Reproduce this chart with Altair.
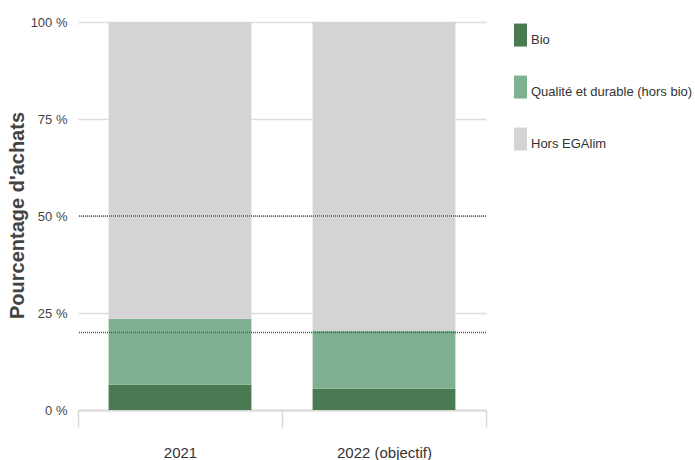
import altair as alt
import pandas as pd

years = ["2021", "2022 (objectif)"]
categories = ["Bio", "Qualité et durable (hors bio)", "Hors EGAlim"]
bio = [6.5, 5.5]
qualite = [17.0, 15.0]
hors = [76.5, 79.5]
colors = ["#4a7a52", "#80b092", "#d4d4d4"]
rule_values = [50, 20]
y_ticks = [0, 25, 50, 75, 100]

rows = []
for i, yr in enumerate(years):
    for k, (cat, vals) in enumerate(zip(categories, [bio, qualite, hors])):
        rows.append({"annee": yr, "categorie": cat, "valeur": vals[i], "ordre": k})
df = pd.DataFrame(rows)
rules = pd.DataFrame({"seuil": rule_values})

font = "Liberation Sans, Arial, sans-serif"
swatch = "M-0.13,-1.43L1,-1.43L1,0.57L-0.13,0.57Z"

bars = alt.Chart(df).mark_bar(width=alt.RelativeBandSize(0.7)).encode(
    x=alt.X(
        "annee:N", sort=years, title=None,
        scale=alt.Scale(paddingInner=0, paddingOuter=0),
        axis=alt.Axis(
            labelAngle=0, tickBand="extent", tickSize=17, tickColor="#d9d9d9",
            tickWidth=1.5, domainColor="#d9d9d9", domainWidth=2, labelPadding=18,
            labelFontSize=15, labelColor="#333333", labelFont=font, grid=False,
        ),
    ),
    y=alt.Y(
        "valeur:Q", stack="zero", scale=alt.Scale(domain=[0, 100]),
        title="Pourcentage d'achats",
        axis=alt.Axis(
            values=y_ticks, labelExpr="datum.value + ' %'", ticks=False, domain=False,
            labelPadding=11, gridColor="#dddddd", gridWidth=1.5, labelFontSize=13,
            labelFont=font, labelColor="#444444",
            titleFont=font, titleFontWeight="bold",
            titleFontSize=20, titleColor="#444444", titleAngle=270, titleX=-55,
            titleY=193, titleBaseline="alphabetic", titleAlign="center",
        ),
    ),
    color=alt.Color(
        "categorie:N", sort=categories,
        scale=alt.Scale(domain=categories, range=colors),
        legend=alt.Legend(
            title=None, orient="none", legendX=426, legendY=6.5,
            symbolType=swatch, symbolSize=529, symbolStrokeWidth=0, symbolOpacity=1,
            rowPadding=28, labelOffset=4, labelFontSize=13, labelFont=font,
            labelColor="#333333", padding=0, labelLimit=300, labelBaseline="middle",
        ),
    ),
    order=alt.Order("ordre:Q", sort="ascending"),
)

lines = alt.Chart(rules).mark_rule(
    color="#555555", strokeDash=[1, 1], strokeWidth=1.5
).encode(y=alt.Y("seuil:Q"))

chart = alt.layer(bars, lines).properties(
    width=408, height=388,
    autosize=alt.AutoSizeParams(type="none"),
    padding={"left": 78, "top": 22, "right": 209, "bottom": 50},
).configure_view(stroke=None)

chart.save("out.html", embed_options={"renderer": "svg", "actions": False})
